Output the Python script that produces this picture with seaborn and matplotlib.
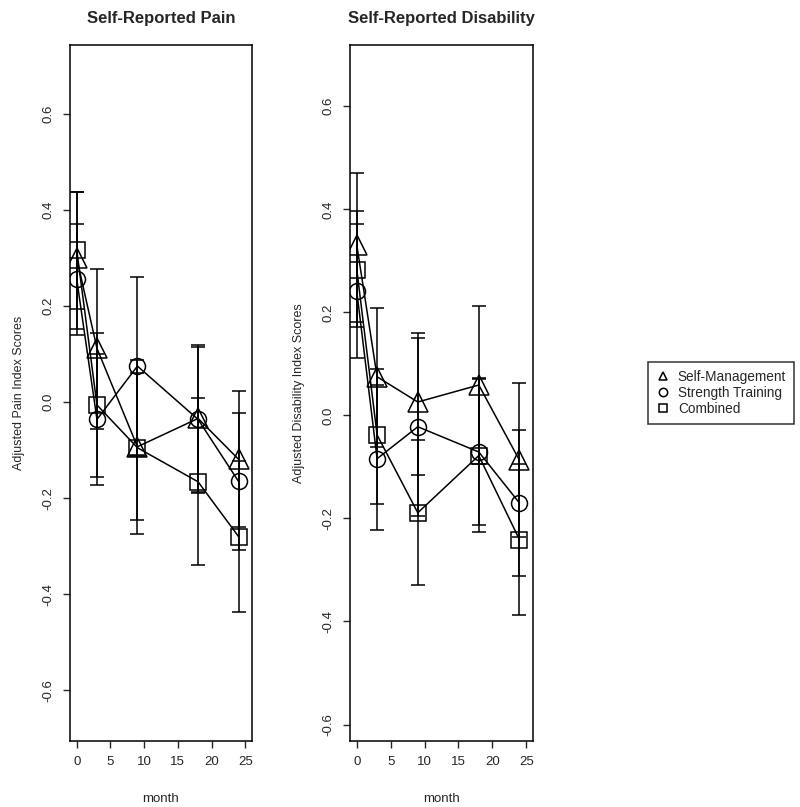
import numpy as np
import pandas as pd
import matplotlib
matplotlib.use("Agg")
import matplotlib.pyplot as plt
from matplotlib.lines import Line2D
import seaborn as sns

# data
months = [0, 3, 9, 18, 24]
groups = ["Self-Management", "Strength Training", "Combined"]

# Self-Reported Pain
pain_self = [0.300, 0.112, -0.093, -0.034, -0.119]
pain_self_lo = [0.153, -0.057, -0.246, -0.187, -0.261]
pain_self_hi = [0.438, 0.278, 0.060, 0.119, 0.023]

pain_strength = [0.256, -0.036, 0.075, -0.036, -0.165]
pain_strength_lo = [0.140, -0.173, -0.111, -0.190, -0.308]
pain_strength_hi = [0.372, 0.101, 0.261, 0.115, -0.022]

pain_comb = [0.317, -0.006, -0.095, -0.166, -0.280]
pain_comb_lo = [0.195, -0.156, -0.274, -0.340, -0.437]
pain_comb_hi = [0.438, 0.143, 0.088, 0.008, -0.123]

# Self-Reported Disability
dis_self = [0.331, 0.075, 0.026, 0.059, -0.087]
dis_self_lo = [0.182, -0.061, -0.116, -0.094, -0.236]
dis_self_hi = [0.471, 0.208, 0.160, 0.212, 0.062]

dis_strength = [0.241, -0.084, -0.022, -0.071, -0.170]
dis_strength_lo = [0.111, -0.223, -0.195, -0.213, -0.311]
dis_strength_hi = [0.371, 0.059, 0.151, 0.072, -0.029]

dis_comb = [0.283, -0.038, -0.189, -0.078, -0.241]
dis_comb_lo = [0.172, -0.171, -0.330, -0.226, -0.388]
dis_comb_hi = [0.397, 0.091, -0.047, 0.070, -0.094]

markers = {"Self-Management": "^", "Strength Training": "o", "Combined": "s"}
msizes = {"Self-Management": 14, "Strength Training": 11.5, "Combined": 11}


def make_df(vals, los, his):
    rows = []
    for g, v, lo, hi in zip(groups, vals, los, his):
        for m, a, b, c in zip(months, v, lo, hi):
            rows.append({"month": m, "group": g, "score": a, "lo": b, "hi": c})
    return pd.DataFrame(rows)


pain_df = make_df([pain_self, pain_strength, pain_comb],
                  [pain_self_lo, pain_strength_lo, pain_comb_lo],
                  [pain_self_hi, pain_strength_hi, pain_comb_hi])
dis_df = make_df([dis_self, dis_strength, dis_comb],
                 [dis_self_lo, dis_strength_lo, dis_comb_lo],
                 [dis_self_hi, dis_strength_hi, dis_comb_hi])

sns.set_style("ticks")
plt.rcParams['font.family'] = ['Liberation Sans', 'DejaVu Sans']

fig = plt.figure(figsize=(8.0, 8.07), dpi=100)
ax1 = fig.add_axes([70 / 800, 66 / 807, 182 / 800, 696 / 807])
ax2 = fig.add_axes([350 / 800, 66 / 807, 183 / 800, 696 / 807])


def draw_panel(ax, df, title, ylabel, ylim):
    # error bars first
    for g in groups:
        d = df[df["group"] == g]
        ax.errorbar(d["month"], d["score"],
                    yerr=[d["score"] - d["lo"], d["hi"] - d["score"]],
                    fmt="none", ecolor="black", elinewidth=1.1,
                    capsize=4.8, capthick=1.1)
    # lines with open markers
    for g in groups:
        d = df[df["group"] == g]
        sns.lineplot(data=d, x="month", y="score", ax=ax, color="black",
                     linewidth=1.1, marker=markers[g], markersize=msizes[g],
                     markerfacecolor="none", markeredgecolor="black",
                     markeredgewidth=1.1, legend=False)
    ax.set_xlim(-1, 26)
    ax.set_ylim(*ylim)
    ax.set_xticks([0, 5, 10, 15, 20, 25])
    ax.set_yticks([-0.6, -0.4, -0.2, 0.0, 0.2, 0.4, 0.6])
    ax.set_yticklabels(["-0.6", "-0.4", "-0.2", "0.0", "0.2", "0.4", "0.6"],
                       rotation=90, va="center")
    ax.tick_params(axis="both", direction="out", length=5, width=1,
                   labelsize=9.5, pad=6)
    ax.set_xlabel("month", fontsize=9.5, labelpad=18)
    ax.set_ylabel(ylabel, fontsize=9, labelpad=13)
    ax.set_title(title, fontsize=12, fontweight="bold", pad=16)
    for s in ax.spines.values():
        s.set_visible(True)
        s.set_linewidth(1.1)
        s.set_color("black")


draw_panel(ax1, pain_df, "Self-Reported Pain", "Adjusted Pain Index Scores",
           (-0.706, 0.744))
draw_panel(ax2, dis_df, "Self-Reported Disability",
           "Adjusted Disability Index Scores", (-0.632, 0.719))

handles = [Line2D([], [], linestyle="none", marker=markers[g], markersize=6,
                  markerfacecolor="none", markeredgecolor="black",
                  markeredgewidth=1.1) for g in groups]
leg = fig.legend(handles, groups, loc="center",
                 bbox_to_anchor=(721 / 800, 1 - 393 / 807),
                 frameon=True, fancybox=False, fontsize=9.8,
                 handlelength=1.0, handletextpad=0.6, labelspacing=0.15,
                 borderpad=0.6)
leg.get_frame().set_edgecolor("black")
leg.get_frame().set_linewidth(1.1)

fig.savefig("out.png", dpi=100)
